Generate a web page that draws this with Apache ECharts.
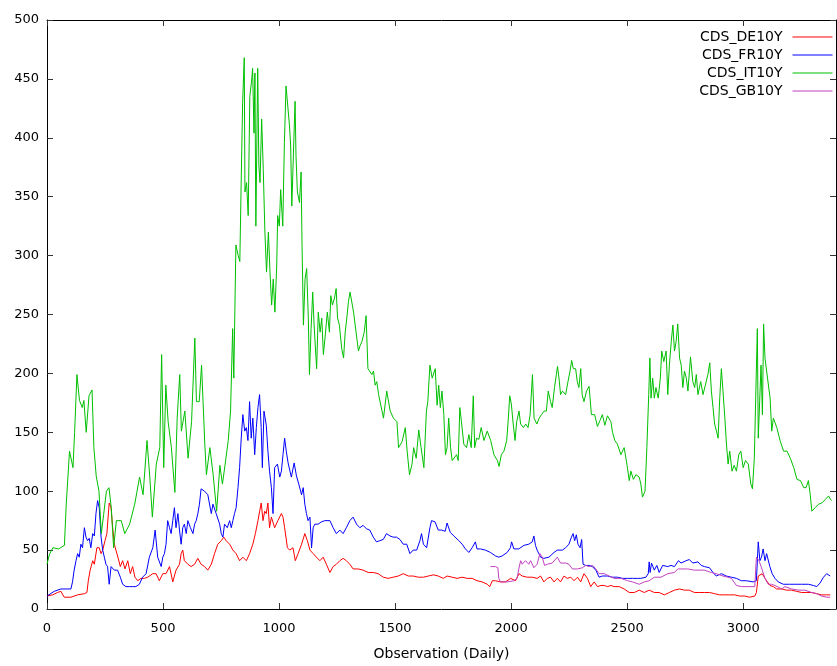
<!DOCTYPE html>
<html>
<head>
<meta charset="utf-8">
<script src="https://cdn.jsdelivr.net/npm/echarts@6/dist/echarts.min.js"></script>
<style>html,body{margin:0;padding:0;background:#fff}#c{width:837px;height:666px}</style>
</head>
<body>
<div id="c"></div>
<script>
const seriesNames = ['CDS_DE10Y', 'CDS_FR10Y', 'CDS_IT10Y', 'CDS_GB10Y'];
const xTickValues = [0, 500, 1000, 1500, 2000, 2500, 3000];
const yTickValues = [0, 50, 100, 150, 200, 250, 300, 350, 400, 450, 500];
const xTitle = 'Observation (Daily)';

const deData = [[0,11],[24,12],[45,14],[60,15],[74,10],[103,10],[132,12],[161,13],[172,14],[178,24],[186,33],[197,41],[204,38],[215,52],[225,52],[233,47],[240,50],[250,58],[258,64],[268,90],[276,86],[283,69],[290,55],[297,50],[307,43],[316,36],[326,41],[336,34],[348,41],[359,30],[369,36],[379,27],[391,24],[405,26],[420,26],[434,27],[456,30],[470,30],[484,24],[499,30],[513,30],[528,36],[542,23],[556,33],[571,38],[578,47],[585,50],[592,41],[607,38],[621,36],[636,38],[650,43],[664,38],[679,36],[693,33],[708,38],[722,47],[736,55],[751,58],[762,61],[772,58],[787,55],[801,50],[815,47],[830,41],[844,44],[859,41],[873,47],[887,55],[898,64],[909,75],[923,90],[931,75],[938,83],[945,81],[952,90],[959,69],[967,78],[981,69],[995,75],[1010,81],[1017,78],[1024,69],[1036,52],[1046,50],[1060,52],[1070,41],[1082,47],[1097,55],[1111,64],[1122,58],[1133,50],[1147,47],[1161,44],[1176,41],[1190,44],[1204,38],[1219,31],[1233,36],[1247,38],[1262,41],[1276,43],[1290,41],[1305,38],[1319,34],[1341,34],[1362,33],[1384,31],[1406,31],[1427,30],[1449,27],[1470,26],[1492,27],[1514,28],[1535,30],[1557,28],[1578,28],[1600,27],[1622,27],[1643,28],[1665,29],[1686,28],[1708,26],[1724,28],[1746,27],[1767,26],[1789,27],[1811,26],[1832,26],[1853,24],[1875,23],[1897,21],[1908,19],[1919,24],[1933,24],[1954,23],[1976,23],[1998,26],[2019,24],[2034,30],[2048,28],[2069,27],[2091,27],[2112,26],[2127,28],[2141,23],[2156,26],[2170,27],[2185,23],[2199,26],[2213,23],[2228,28],[2242,26],[2257,27],[2271,24],[2286,27],[2300,23],[2314,30],[2329,26],[2343,19],[2358,23],[2372,19],[2387,20],[2401,20],[2415,19],[2430,20],[2444,19],[2466,19],[2487,17],[2509,14],[2531,14],[2552,16],[2574,14],[2595,16],[2617,14],[2638,14],[2660,12],[2682,14],[2704,16],[2725,17],[2747,16],[2768,16],[2790,14],[2811,14],[2833,14],[2855,14],[2877,13],[2898,12],[2920,12],[2942,12],[2963,12],[2985,11],[3007,11],[3028,10],[3050,11],[3057,14],[3065,28],[3072,27],[3082,30],[3094,26],[3101,27],[3115,20],[3130,19],[3144,17],[3166,17],[3187,16],[3209,16],[3230,15],[3252,14],[3274,14],[3295,14],[3317,13],[3338,12],[3360,12],[3375,12]];

const frData = [[0,11],[31,15],[60,17],[103,17],[110,23],[117,33],[125,41],[132,47],[139,44],[146,55],[153,52],[161,69],[168,61],[175,58],[182,60],[189,52],[197,64],[204,62],[211,81],[218,92],[225,86],[233,61],[240,50],[247,44],[254,38],[261,36],[268,21],[276,36],[290,33],[304,33],[316,27],[326,21],[340,19],[355,19],[369,19],[383,19],[398,21],[412,27],[427,30],[441,44],[456,52],[466,67],[477,44],[492,36],[499,44],[506,47],[513,55],[520,75],[528,69],[535,64],[542,75],[549,86],[556,69],[564,81],[571,67],[578,55],[585,69],[592,72],[600,64],[607,75],[618,69],[629,64],[636,72],[643,75],[650,81],[657,89],[664,102],[679,100],[693,97],[708,81],[715,89],[729,81],[744,72],[751,64],[758,61],[765,72],[777,69],[787,75],[794,69],[801,75],[808,81],[815,86],[823,103],[830,120],[837,145],[844,165],[852,151],[859,154],[866,143],[873,176],[880,145],[887,162],[895,131],[902,154],[909,171],[916,182],[923,154],[928,120],[935,168],[945,156],[952,134],[959,117],[967,103],[974,81],[981,120],[993,123],[1003,112],[1010,117],[1017,131],[1024,145],[1031,134],[1039,124],[1053,112],[1065,124],[1075,113],[1085,106],[1097,97],[1104,103],[1111,89],[1118,81],[1125,75],[1133,78],[1140,52],[1147,69],[1154,72],[1168,72],[1183,74],[1197,75],[1219,75],[1233,69],[1247,64],[1262,67],[1276,64],[1290,69],[1305,75],[1319,78],[1334,72],[1348,69],[1362,71],[1377,68],[1391,67],[1406,61],[1420,57],[1434,58],[1449,59],[1463,64],[1478,62],[1492,61],[1506,61],[1521,59],[1535,55],[1550,55],[1564,47],[1578,50],[1593,50],[1607,58],[1614,64],[1622,55],[1636,52],[1650,69],[1657,75],[1672,74],[1686,67],[1700,67],[1716,66],[1724,73],[1738,65],[1753,62],[1775,58],[1789,55],[1803,51],[1818,48],[1832,52],[1846,57],[1853,51],[1868,51],[1889,50],[1911,48],[1933,45],[1947,44],[1961,45],[1983,48],[1997,52],[2002,57],[2012,51],[2033,51],[2055,54],[2076,55],[2091,57],[2098,62],[2105,54],[2112,50],[2127,44],[2141,43],[2163,44],[2185,48],[2199,50],[2221,50],[2235,52],[2249,55],[2260,61],[2267,64],[2274,58],[2281,63],[2288,55],[2297,52],[2304,59],[2310,38],[2321,37],[2336,37],[2350,36],[2365,33],[2379,27],[2393,28],[2415,28],[2437,27],[2458,27],[2480,26],[2502,26],[2523,26],[2545,26],[2559,26],[2581,27],[2591,30],[2595,40],[2599,31],[2605,39],[2617,33],[2628,37],[2638,31],[2653,37],[2675,36],[2689,37],[2704,36],[2721,41],[2732,39],[2754,41],[2768,42],[2783,39],[2805,40],[2819,37],[2833,36],[2855,35],[2870,31],[2884,28],[2906,30],[2927,28],[2949,27],[2971,26],[2992,24],[3014,24],[3043,23],[3057,24],[3065,57],[3072,41],[3079,44],[3086,51],[3094,41],[3101,47],[3108,46],[3115,36],[3125,30],[3137,26],[3151,23],[3173,21],[3200,21],[3223,21],[3252,21],[3281,21],[3302,20],[3317,19],[3331,22],[3346,27],[3360,30],[3375,28]];

const itData = [[0,38],[10,46],[25,52],[50,51],[75,54],[83,89],[97,134],[112,120],[119,150],[129,199],[140,177],[152,171],[159,177],[169,150],[181,181],[194,186],[202,137],[212,113],[224,100],[234,64],[244,80],[256,100],[267,103],[277,86],[287,52],[299,75],[320,75],[335,64],[356,72],[378,89],[399,112],[414,97],[431,143],[443,112],[454,78],[471,123],[486,137],[494,216],[503,120],[512,190],[522,159],[536,137],[551,99],[561,162],[572,199],[579,151],[594,168],[608,128],[623,159],[637,230],[644,176],[656,176],[666,207],[680,140],[687,114],[702,137],[716,114],[731,83],[745,122],[756,106],[767,122],[781,143],[791,168],[800,238],[805,196],[814,309],[824,300],[831,295],[838,376],[843,430],[850,468],[853,354],[860,362],[867,334],[874,435],[882,449],[886,459],[892,404],[896,455],[900,325],[908,459],[913,376],[918,362],[925,416],[932,373],[939,320],[946,286],[954,320],[961,286],[968,258],[975,280],[982,252],[990,292],[994,334],[1001,325],[1007,356],[1016,325],[1023,396],[1030,444],[1038,444],[1045,410],[1050,393],[1055,342],[1062,387],[1069,431],[1073,385],[1079,354],[1088,345],[1095,371],[1099,309],[1105,241],[1112,280],[1119,289],[1126,247],[1131,199],[1138,238],[1145,269],[1151,241],[1156,224],[1162,204],[1169,252],[1177,235],[1184,247],[1191,216],[1198,230],[1208,252],[1217,235],[1223,266],[1230,258],[1239,264],[1246,272],[1252,247],[1260,241],[1270,221],[1278,213],[1285,235],[1292,247],[1299,261],[1306,269],[1314,269],[1321,252],[1328,241],[1335,230],[1342,219],[1350,224],[1357,227],[1367,235],[1375,249],[1383,204],[1390,202],[1400,199],[1407,202],[1414,190],[1421,193],[1429,182],[1436,182],[1450,162],[1464,185],[1479,168],[1493,162],[1508,159],[1515,137],[1530,142],[1544,154],[1552,134],[1562,114],[1573,123],[1580,137],[1591,128],[1602,152],[1612,137],[1624,120],[1635,168],[1641,176],[1650,207],[1660,196],[1673,204],[1681,173],[1688,190],[1695,171],[1702,185],[1710,165],[1717,131],[1724,137],[1731,162],[1739,137],[1746,126],[1765,131],[1772,126],[1779,171],[1786,159],[1796,140],[1808,137],[1818,148],[1828,137],[1837,181],[1843,137],[1851,145],[1861,144],[1871,154],[1883,143],[1897,151],[1912,143],[1926,131],[1941,126],[1948,121],[1958,131],[1969,134],[1981,143],[1988,162],[1994,181],[2001,174],[2009,157],[2017,143],[2024,159],[2034,168],[2041,157],[2053,154],[2063,157],[2073,154],[2082,165],[2092,199],[2099,162],[2111,157],[2121,162],[2131,165],[2142,168],[2152,168],[2160,185],[2170,176],[2177,171],[2187,188],[2195,199],[2200,206],[2208,193],[2213,182],[2221,185],[2235,182],[2245,193],[2254,202],[2261,211],[2268,204],[2278,204],[2285,193],[2292,188],[2300,204],[2306,182],[2314,176],[2325,185],[2336,189],[2346,165],[2360,165],[2372,155],[2383,160],[2393,165],[2404,156],[2415,164],[2430,159],[2437,150],[2447,143],[2458,140],[2473,131],[2487,137],[2499,123],[2509,109],[2516,117],[2527,110],[2538,114],[2552,112],[2559,106],[2566,95],[2577,100],[2585,137],[2593,182],[2598,213],[2603,179],[2610,196],[2617,179],[2624,188],[2634,179],[2643,196],[2649,219],[2658,210],[2668,219],[2675,182],[2682,207],[2690,227],[2697,241],[2704,219],[2711,227],[2718,242],[2726,213],[2733,207],[2740,188],[2747,202],[2755,196],[2762,185],[2773,214],[2783,193],[2791,188],[2798,199],[2805,182],[2817,193],[2827,182],[2837,190],[2848,199],[2856,209],[2863,185],[2870,171],[2877,157],[2885,151],[2892,145],[2899,179],[2906,204],[2913,185],[2921,162],[2928,140],[2935,123],[2942,134],[2952,117],[2961,122],[2971,117],[2981,131],[2990,134],[3000,120],[3010,126],[3022,123],[3033,106],[3040,102],[3048,128],[3054,179],[3061,238],[3065,145],[3071,176],[3077,207],[3083,165],[3088,242],[3094,213],[3101,202],[3109,202],[3116,179],[3123,151],[3130,162],[3145,154],[3159,143],[3174,134],[3189,134],[3203,128],[3218,120],[3232,110],[3247,109],[3261,103],[3271,103],[3281,109],[3289,97],[3296,83],[3310,86],[3325,89],[3339,90],[3354,93],[3368,96],[3380,92]];

const gbData = [[1911,36],[1933,36],[1943,35],[1947,26],[1954,23],[1983,23],[2012,24],[2026,26],[2033,34],[2041,41],[2048,38],[2062,41],[2076,38],[2084,41],[2098,35],[2112,38],[2124,47],[2134,44],[2144,37],[2156,38],[2177,39],[2199,44],[2213,39],[2235,39],[2249,38],[2264,34],[2286,34],[2307,35],[2322,37],[2336,36],[2351,37],[2365,34],[2379,30],[2401,30],[2422,28],[2444,26],[2473,26],[2502,24],[2523,23],[2552,21],[2574,23],[2595,24],[2617,27],[2646,27],[2675,30],[2704,31],[2718,34],[2761,34],[2790,33],[2833,33],[2862,31],[2884,30],[2913,28],[2935,27],[2949,26],[2971,20],[2992,19],[3050,19],[3057,44],[3068,41],[3079,35],[3094,26],[3108,21],[3122,21],[3137,20],[3166,17],[3180,19],[3209,17],[3238,16],[3266,16],[3295,14],[3317,13],[3338,11],[3360,10],[3375,10]];

const colors = ['#ff0000', '#0000ff', '#00c000', '#c040c0'];
const allData = [deData, frData, itData, gbData];

const FONT = 'DejaVu Sans';
const chart = echarts.init(document.getElementById('c'), null, {renderer: 'canvas'});
const plain = v => String(v);

function xAxisBase(pos, showLabel) {
  return {
    type: 'value', position: pos, min: 0, max: 3400,
    axisLine: {show: true, onZero: false, lineStyle: {color: '#000', width: 1}},
    axisTick: {show: true, inside: true, length: 6, customValues: xTickValues, lineStyle: {color: '#333'}},
    axisLabel: {show: showLabel, customValues: xTickValues, formatter: plain, margin: 13, color: '#000', fontFamily: FONT, fontSize: 13},
    splitLine: {show: false}
  };
}
function yAxisBase(pos, showLabel) {
  return {
    type: 'value', position: pos, min: 0, max: 500,
    axisLine: {show: true, onZero: false, lineStyle: {color: '#000', width: 1}},
    axisTick: {show: true, inside: true, length: 6, customValues: yTickValues, lineStyle: {color: '#333'}},
    axisLabel: {show: showLabel, customValues: yTickValues, formatter: plain, margin: 8, color: '#000', fontFamily: FONT, fontSize: 13},
    splitLine: {show: false}
  };
}

const xBottom = xAxisBase('bottom', true);
xBottom.name = xTitle;
xBottom.nameLocation = 'middle';
xBottom.nameGap = 38;
xBottom.nameTextStyle = {color: '#000', fontFamily: FONT, fontSize: 14};

chart.setOption({
  animation: false,
  backgroundColor: '#fff',
  color: colors,
  grid: {left: 47, right: 1, top: 20, bottom: 54, containLabel: false},
  xAxis: [xBottom, xAxisBase('top', false)],
  yAxis: [yAxisBase('left', true), yAxisBase('right', false)],
  legend: {
    orient: 'vertical', align: 'right', right: 4, top: 30, padding: 0,
    itemWidth: 40, itemHeight: 14, itemGap: 4,
    itemStyle: {opacity: 0},
    lineStyle: {width: 1},
    textStyle: {color: '#000', fontFamily: FONT, fontSize: 14, lineHeight: 14, padding: [0, 5, 0, 0]},
    data: seriesNames
  },
  series: seriesNames.map((n, i) => ({
    name: n, type: 'line', xAxisIndex: 0, yAxisIndex: 0,
    data: allData[i], showSymbol: false, symbol: 'none', silent: true,
    lineStyle: {width: 1, color: colors[i]}, itemStyle: {color: colors[i]}
  }))
});
</script>
</body>
</html>
